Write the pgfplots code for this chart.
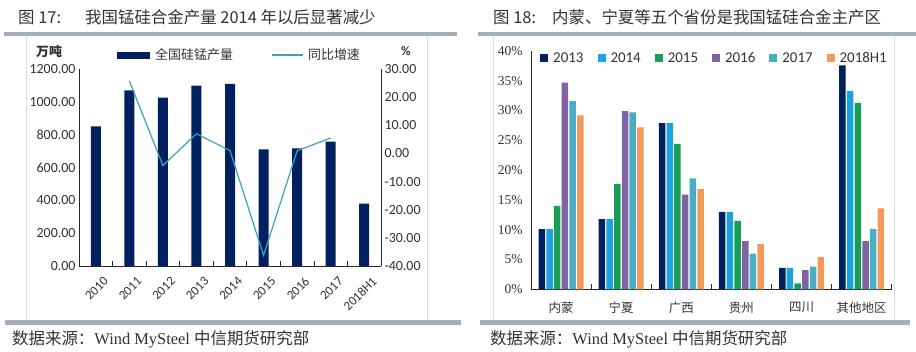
\documentclass[border=0pt]{standalone}
\usepackage{pgfplots}
\pgfplotsset{compat=1.18}
\usepackage{fontspec}
\setmainfont{Carlito}
\newfontfamily\cjk{Noto Sans CJK SC}
\newfontfamily\tnr{Liberation Serif}
\definecolor{navy}{RGB}{0,32,96}
\definecolor{cB}{RGB}{28,163,222}
\definecolor{cG}{RGB}{24,158,88}
\definecolor{cP}{RGB}{128,100,162}
\definecolor{cT}{RGB}{75,172,198}
\definecolor{cO}{RGB}{240,155,90}
\definecolor{lineteal}{RGB}{60,160,195}
\definecolor{rulec}{RGB}{165,175,188}
\definecolor{framec}{RGB}{218,220,224}
\definecolor{txt}{RGB}{50,50,50}
\newcommand\fs[1]{\fontsize{#1}{#1}\selectfont}
\begin{document}
\begin{tikzpicture}[x=1bp,y=1bp]
\useasboundingbox (0,0) rectangle (916,351);
% decorations
\fill[rulec] (4,315) rectangle (457,319);
\fill[rulec] (478,315) rectangle (916,319);
\fill[rulec] (5,26) rectangle (461,31);
\fill[rulec] (480,26) rectangle (910,31);
\draw[framec,line width=1bp] (26,31) -- (26,315) (427,31) -- (427,315);
\draw[framec,line width=1bp] (493,31) -- (493,315) (894,31) -- (894,315);
% titles
\node[anchor=base west,inner sep=0,text=txt] at (18,328) {\cjk\fs{16.5}图 17:};
\node[anchor=base west,inner sep=0,text=txt] at (85,328) {\cjk\fs{16.5}我国锰硅合金产量 2014 年以后显著减少};
\node[anchor=base west,inner sep=0,text=txt] at (493,328) {\cjk\fs{16.5}图 18:};
\node[anchor=base west,inner sep=0,text=txt] at (552,328) {\cjk\fs{16.5}内蒙、宁夏等五个省份是我国锰硅合金主产区};
% sources
\node[anchor=base west,inner sep=0,text=txt] at (12,7) {\cjk\fs{16.5}数据来源：\tnr Wind MySteel \cjk 中信期货研究部};
\node[anchor=base west,inner sep=0,text=txt] at (490,7) {\cjk\fs{16.5}数据来源：\tnr Wind MySteel \cjk 中信期货研究部};
% units
\node[anchor=west,inner sep=0,text=txt] at (36,299) {\cjk\bfseries\fs{13}万吨};
\node[anchor=west,inner sep=0,text=txt] at (401,300) {\bfseries\fs{13}\%};

% left chart: bars
\begin{axis}[at={(79bp,85bp)}, anchor=south west, scale only axis,
  width=302bp, height=197bp,
  xmin=-0.5, xmax=8.5, ymin=0, ymax=1200, ytick={0,200,...,1200},
  axis x line*=bottom, axis y line*=left,
  axis line style={black!85, line width=0.8bp},
  major tick length=0pt,
  xtick={0,...,8}, xticklabels={2010,2011,2012,2013,2014,2015,2016,2017,2018H1},
  extra x ticks={0.5,1.5,...,7.5}, extra x tick labels={},
  extra x tick style={major tick length=5bp, tick align=inside, tick style={black!85, line width=0.6bp}},
  xticklabel style={rotate=45, anchor=north east, font=\fs{13}, text=txt, inner sep=1bp, xshift=-1bp, yshift=-11bp},
  yticklabel style={font=\fs{14}, text=txt},
  /pgf/number format/.cd, fixed, fixed zerofill, precision=2, 1000 sep={}, assume math mode=true, /pgfplots/.cd,
  legend columns=2,
  legend cell align=left,
  legend style={draw=none, fill=none, at={(0.126,1.071)}, anchor=west, inner sep=0pt,
    font=\cjk\fs{13}, text=txt,
    /tikz/every odd column/.append style={column sep=3bp},
    /tikz/every even column/.append style={column sep=36bp}},
]
\addplot[ybar, bar width=10bp, fill=navy, draw=none,
  legend image code/.code={\fill[navy] (0bp,-3.5bp) rectangle (33bp,3.5bp);}]
  coordinates {(0,850)(1,1070)(2,1025)(3,1098)(4,1110)(5,711)(6,717)(7,757)(8,380)};
\addlegendentry{全国硅锰产量}
\addlegendimage{legend image code/.code={\draw[lineteal,line width=1.2bp] (0bp,0bp) -- (31bp,0bp);}}
\addlegendentry{同比增速}
\end{axis}

% left chart: growth line on right axis
\begin{axis}[at={(79bp,85bp)}, anchor=south west, scale only axis,
  width=302bp, height=197bp,
  xmin=-0.5, xmax=8.5, ymin=-40, ymax=30, ytick={-40,-30,...,30},
  axis y line*=right, axis x line=none,
  axis line style={black!85, line width=0.8bp},
  major tick length=0pt,
  yticklabel style={font=\fs{14}, text=txt},
  /pgf/number format/.cd, fixed, fixed zerofill, precision=2, assume math mode=true, /pgfplots/.cd,
]
\addplot[lineteal, line width=1.2bp, mark=none]
  coordinates {(1,25.8)(2,-4.3)(3,7.0)(4,1.0)(5,-36.2)(6,0.9)(7,5.5)};
\end{axis}

% right chart
\begin{axis}[at={(531bp,61.7bp)}, anchor=south west, scale only axis,
  width=360.7bp, height=238.3bp,
  ybar=1.2bp, bar width=6.5bp,
  xmin=-0.5, xmax=5.5, ymin=0, ymax=40, ytick={0,5,...,40},
  axis x line*=bottom, axis y line*=left,
  axis line style={black!85, line width=0.8bp},
  major tick length=0pt,
  xtick={0,...,5}, xticklabels={内蒙,宁夏,广西,贵州,四川,其他地区},
  xticklabel style={font=\cjk\fs{12.5}, text=txt, yshift=-9bp},
  extra x ticks={0.5,1.5,...,5.5}, extra x tick labels={},
  extra x tick style={major tick length=5bp, tick align=inside, tick style={black!85, line width=0.6bp}},
  yticklabel={\pgfmathprintnumber{\tick}\%},
  yticklabel style={font=\tnr\fs{13.5}, text=txt, xshift=-5bp},
  /pgf/number format/assume math mode=true,
  legend columns=6,
  legend cell align=left,
  legend style={draw=none, fill=none, at={(0.025,0.971)}, anchor=west, inner sep=0pt,
    font=\fs{15}, text=txt,
    /tikz/every odd column/.append style={column sep=3bp},
    /tikz/every even column/.append style={column sep=12bp}},
  legend image code/.code={\draw[#1,draw=none] (0bp,-4bp) rectangle (8bp,4bp);},
]
\addplot[fill=navy, draw=none] coordinates {(0,10.1)(1,11.8)(2,27.9)(3,13.0)(4,3.6)(5,37.6)};
\addplot[fill=cB, draw=none] coordinates {(0,10.1)(1,11.8)(2,27.9)(3,13.0)(4,3.6)(5,33.3)};
\addplot[fill=cG, draw=none] coordinates {(0,14.0)(1,17.7)(2,24.4)(3,11.5)(4,1.0)(5,31.3)};
\addplot[fill=cP, draw=none] coordinates {(0,34.7)(1,29.9)(2,15.9)(3,8.1)(4,3.2)(5,8.1)};
\addplot[fill=cT, draw=none] coordinates {(0,31.6)(1,29.7)(2,18.6)(3,6.0)(4,3.8)(5,10.1)};
\addplot[fill=cO, draw=none] coordinates {(0,29.2)(1,27.2)(2,16.8)(3,7.6)(4,5.4)(5,13.6)};
\legend{2013,2014,2015,2016,2017,2018H1}
\end{axis}
\end{tikzpicture}
\end{document}
